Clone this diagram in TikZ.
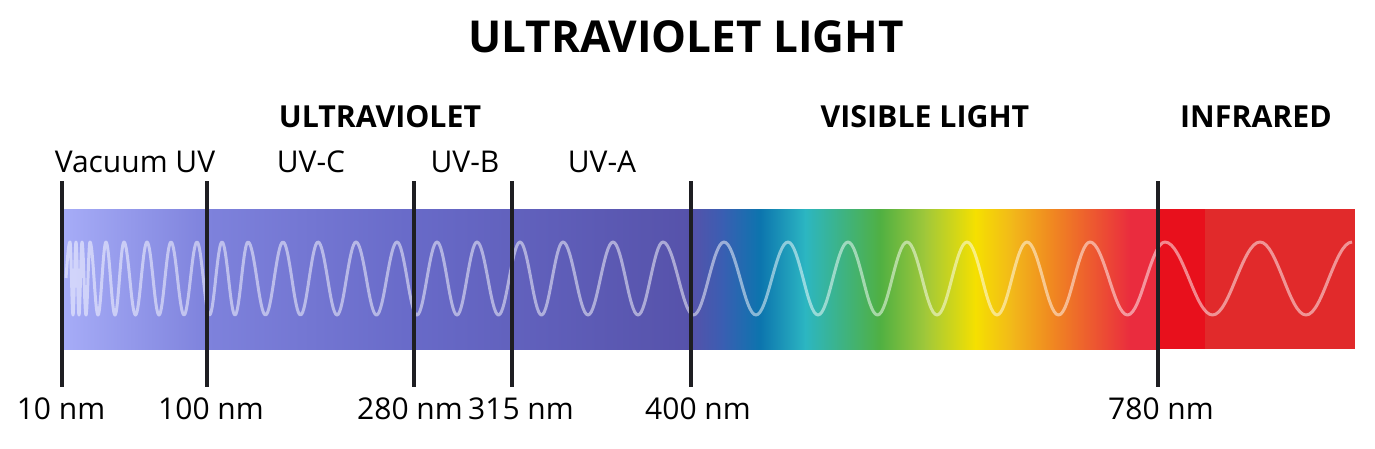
\documentclass[tikz,border=0pt]{standalone}
\usepackage{fontspec}
\setmainfont{Open Sans}
\usepackage{tikz}
\usetikzlibrary{positioning}
\definecolor{uvVac}{RGB}{166,172,247}
\definecolor{uvC}{RGB}{126,130,220}
\definecolor{uvB}{RGB}{104,106,200}
\definecolor{uvA}{RGB}{86,82,170}
\definecolor{visBlue}{RGB}{58,94,178}
\definecolor{visDeep}{RGB}{12,117,174}
\definecolor{visCyan}{RGB}{44,182,194}
\definecolor{visGreen}{RGB}{80,176,66}
\definecolor{visLime}{RGB}{160,200,58}
\definecolor{visYellow}{RGB}{245,224,0}
\definecolor{visAmber}{RGB}{242,184,26}
\definecolor{visOrange}{RGB}{240,138,32}
\definecolor{visRed}{RGB}{234,44,62}
\definecolor{irEdge}{RGB}{232,16,28}
\definecolor{irBody}{RGB}{225,42,43}
\definecolor{tickcol}{RGB}{30,30,34}

\begin{document}
\begin{tikzpicture}[x=1pt, y=-1pt,
    every node/.style={inner sep=0pt, anchor=base},
    heading/.style={font=\fontsize{44}{47}\selectfont\bfseries},
    bandname/.style={font=\fontsize{30.3}{33}\selectfont\bfseries},
    subband/.style={font=\fontsize{30}{32}\selectfont},
    nmlabel/.style={font=\fontsize{30}{32}\selectfont},
    tick/.style={draw=tickcol, line width=4pt},
    wave/.style={draw=white, draw opacity=0.5, line width=3pt, line join=round}]
  \fill[white] (0,0) rectangle (1375,448);
  \useasboundingbox (0,0) rectangle (1375,448);
  % spectrum band: one shaded strip per colour stop, the infrared end flat
  \foreach \xa/\ca/\xb/\cb in {64/uvVac/207/uvC, 207/uvC/414/uvB, 414/uvB/691/uvA,
      691/uvA/722/visBlue, 722/visBlue/760/visDeep, 760/visDeep/805/visCyan,
      805/visCyan/880/visGreen, 880/visGreen/925/visLime, 925/visLime/975/visYellow,
      975/visYellow/1012/visAmber, 1012/visAmber/1050/visOrange,
      1050/visOrange/1130/visRed, 1130/visRed/1158/visRed} {
    \shade[left color=\ca, right color=\cb] (\xa,209) rectangle (\xb+0.6,349);
  }
  \fill[irEdge] (1158,209) rectangle (1205.6,349);
  \fill[irBody] (1205,209) rectangle (1355,349);
  % the wave: a quarter-sine per step between measured crests,
  % so the wavelength grows from left to right
  \draw[wave] (66,278) sin (70,242)
    \foreach \p [remember=\p as \q (initially 70)] in {76,82,90,106,124,147,171,197,
        222,248,283,318,356,397,437,477,520,563,613,663,724,788,848,907,967,1027,
        1090,1165,1260,1352} {
      cos ({\q+(\p-\q)/4},278) sin ({(\q+\p)/2},315)
      cos ({\q+3*(\p-\q)/4},278) sin (\p,242)
    };
  % boundary ticks with their wavelengths underneath
  \foreach \x/\lx/\name/\lab in {62/61/t10/10 nm, 207/211/t100/100 nm,
      414/410/t280/280 nm, 512/521/t315/315 nm, 691/698/t400/400 nm,
      1158/1161/t780/780 nm} {
    \coordinate (\name-top) at (\x,181);
    \coordinate (\name-bot) at (\x,387);
    \draw[tick] (\name-top) -- (\name-bot);
    \node[nmlabel] (\name-lab) at (\lx,419) {\lab};
  }
  % headings
  \node[heading] (title) at (686,52) {ULTRAVIOLET LIGHT};
  \node[bandname] (uv) at (380,127) {ULTRAVIOLET};
  \node[bandname] (vis) at (925,127) {VISIBLE LIGHT};
  \node[bandname] (ir) at (1256,127) {INFRARED};
  \node[subband] (vuv) at (135,172) {Vacuum UV};
  \node[subband] (uvc) at (311,172) {UV-C};
  \node[subband] (uvb) at (465,172) {UV-B};
  \node[subband] (uva) at (602,172) {UV-A};
\end{tikzpicture}
\end{document}
